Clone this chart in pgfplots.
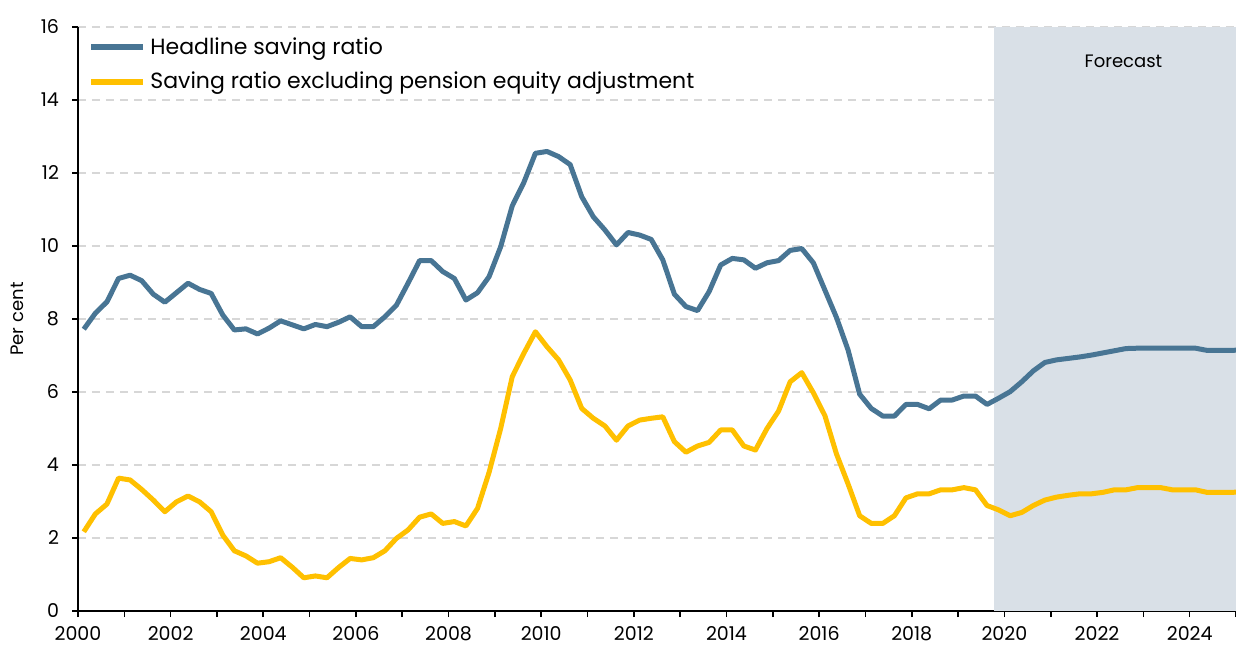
\documentclass[border=0pt]{standalone}
\usepackage{pgfplots}
\pgfplotsset{compat=1.18}
\usepackage{pgfplotstable}
\usepackage{fontspec}
\setmainfont{Poppins}
\definecolor{hblue}{RGB}{72,117,148}
\definecolor{syell}{RGB}{255,192,0}
\definecolor{fshade}{RGB}{217,224,231}
\definecolor{gridg}{RGB}{215,215,215}

\pgfplotstableread{
x h y
2000.125 7.72 2.17
2000.375 8.16 2.66
2000.625 8.47 2.93
2000.875 9.11 3.64
2001.125 9.20 3.59
2001.375 9.05 3.33
2001.625 8.68 3.04
2001.875 8.46 2.72
2002.125 8.72 2.99
2002.375 8.98 3.15
2002.625 8.81 2.99
2002.875 8.70 2.72
2003.125 8.11 2.08
2003.375 7.70 1.65
2003.625 7.73 1.51
2003.875 7.59 1.31
2004.125 7.75 1.35
2004.375 7.95 1.46
2004.625 7.84 1.20
2004.875 7.73 0.91
2005.125 7.85 0.96
2005.375 7.79 0.91
2005.625 7.91 1.19
2005.875 8.06 1.44
2006.125 7.79 1.40
2006.375 7.79 1.46
2006.625 8.06 1.65
2006.875 8.38 1.99
2007.125 8.98 2.22
2007.375 9.60 2.57
2007.625 9.60 2.66
2007.875 9.30 2.40
2008.125 9.11 2.45
2008.375 8.52 2.33
2008.625 8.72 2.81
2008.875 9.16 3.80
2009.125 9.98 5.00
2009.375 11.10 6.42
2009.625 11.74 7.06
2009.875 12.54 7.65
2010.125 12.59 7.24
2010.375 12.45 6.88
2010.625 12.23 6.33
2010.875 11.35 5.55
2011.125 10.80 5.28
2011.375 10.44 5.07
2011.625 10.03 4.68
2011.875 10.37 5.07
2012.125 10.30 5.23
2012.375 10.18 5.28
2012.625 9.62 5.32
2012.875 8.68 4.64
2013.125 8.34 4.35
2013.375 8.23 4.52
2013.625 8.75 4.62
2013.875 9.48 4.96
2014.125 9.66 4.96
2014.375 9.62 4.52
2014.625 9.39 4.41
2014.875 9.54 5.00
2015.125 9.60 5.48
2015.375 9.88 6.28
2015.625 9.93 6.53
2015.875 9.54 5.98
2016.125 8.79 5.35
2016.375 8.04 4.30
2016.625 7.15 3.48
2016.875 5.94 2.61
2017.125 5.55 2.40
2017.375 5.34 2.40
2017.625 5.34 2.61
2017.875 5.66 3.10
2018.125 5.66 3.21
2018.375 5.54 3.21
2018.625 5.78 3.32
2018.875 5.78 3.32
2019.125 5.89 3.38
2019.375 5.89 3.32
2019.625 5.66 2.89
2019.875 5.83 2.77
2020.125 6.01 2.61
2020.375 6.28 2.70
2020.625 6.58 2.89
2020.875 6.81 3.04
2021.125 6.88 3.12
2021.375 6.92 3.17
2021.625 6.96 3.21
2021.875 7.01 3.21
2022.125 7.07 3.25
2022.375 7.13 3.32
2022.625 7.19 3.32
2022.875 7.20 3.38
2023.125 7.20 3.38
2023.375 7.20 3.38
2023.625 7.20 3.32
2023.875 7.20 3.32
2024.125 7.20 3.32
2024.375 7.14 3.25
2024.625 7.14 3.25
2024.875 7.14 3.25
2025.125 7.15 3.26
}\datatable

\begin{document}
\begin{tikzpicture}
\begin{axis}[
  scale only axis,
  width=579pt, height=292pt,
  xmin=2000, xmax=2025,
  ymin=0, ymax=16,
  axis x line=bottom, axis y line=left,
  axis line style={black, line width=1pt, -},
  xtick={2000,2002,...,2024},
  minor xtick={2001,2003,...,2025},
  ytick={0,2,...,16},
  tick style={black, line width=0.8pt},
  major tick length=3pt, minor tick length=3pt,
  tick align=outside,
  xticklabel style={font=\fontsize{9.5}{11}\selectfont, yshift=-1pt},
  yticklabel style={font=\fontsize{9.5}{11}\selectfont, xshift=-3pt},
  /pgf/number format/1000 sep={},
  /pgf/number format/assume math mode=true,
  ymajorgrids,
  major grid style={gridg, dashed, line width=0.7pt, dash pattern=on 4pt off 3pt},
  ylabel={Per cent},
  ylabel style={font=\fontsize{9}{11}\selectfont, at={(axis description cs:-0.052,0.5)}, anchor=center},
  legend style={at={(rel axis cs:0,1)}, anchor=north west, xshift=4pt, yshift=-2pt,
    draw=none, fill=none, font=\fontsize{11}{13}\selectfont,
    row sep=3.5pt, inner sep=1pt},
  legend cell align=left,
  legend image code/.code={\draw[#1, line width=3pt] (0pt,0pt) -- (26pt,0pt);},
  clip=true,
]
\fill[fshade] (axis cs:2019.78,0) rectangle (axis cs:2025,16);
\node[font=\fontsize{9}{11}\selectfont, anchor=center] at (axis cs:2022.57,15.05) {Forecast};
\addplot[hblue, line width=2.5pt, line join=round] table[x=x, y=h] {\datatable};
\addlegendentry{Headline saving ratio}
\addplot[syell, line width=2.5pt, line join=round] table[x=x, y=y] {\datatable};
\addlegendentry{Saving ratio excluding pension equity adjustment}
\end{axis}
\pgfresetboundingbox
\path[use as bounding box] ([xshift=-39pt, yshift=-18.5pt]current axis.south west) rectangle ([yshift=13.5pt]current axis.north east);
\end{tikzpicture}
\end{document}
